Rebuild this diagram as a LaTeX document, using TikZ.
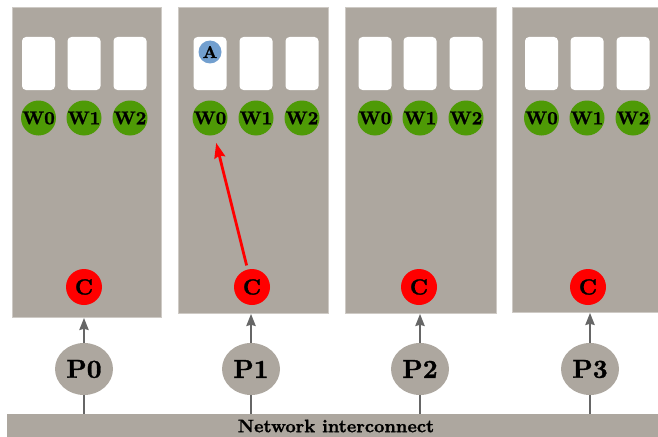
\documentclass[tikz,border=0pt]{standalone}
\usepackage{fontspec}
\newfontfamily\lmheavy{lmroman10-bold.otf}[FakeBold=1.2]
\usetikzlibrary{arrows.meta,shapes.geometric}
\definecolor{panelgray}{HTML}{ADA79F}
\definecolor{wgreen}{HTML}{4E9A06}
\definecolor{ablue}{HTML}{729FCF}
\definecolor{arrgray}{HTML}{666666}
\tikzset{
  panel/.style={rectangle, fill=panelgray, draw=panelgray!60!white, line width=0.8pt, anchor=north west, inner sep=0pt},
  slot/.style={rectangle, rounded corners=4pt, fill=white, minimum width=33pt, minimum height=53pt, inner sep=0pt},
  wcirc/.style={circle, fill=wgreen, minimum size=35pt, inner sep=0pt, font=\lmheavy\fontsize{18.5}{18.5}\selectfont},
  ccirc/.style={circle, fill=red, minimum size=36pt, inner sep=0pt, font=\lmheavy\fontsize{22}{22}\selectfont},
  acirc/.style={circle, fill=ablue, minimum size=23pt, inner sep=0pt, font=\lmheavy\fontsize{17}{17}\selectfont},
  proc/.style={ellipse, fill=panelgray, minimum width=58pt, minimum height=52pt, inner sep=0pt, font=\lmheavy\fontsize{26}{26}\selectfont},
  uparrow/.style={draw=arrgray, line width=2.6pt, -{Stealth[length=12pt,width=9pt,inset=1pt]}},
  link/.style={draw=arrgray, line width=2.6pt},
  redarrow/.style={draw=red, line width=2.8pt, -{Stealth[length=15pt,width=11pt,inset=2pt]}, shorten >=8pt, shorten <=4pt},
}
\begin{document}
\begin{tikzpicture}[x=1pt,y=-1pt]
\useasboundingbox (0,0) rectangle (658,436);
% panels
\node[panel, minimum width=149pt, minimum height=310pt] (pan0) at (12,7) {};
\node[panel, minimum width=150pt, minimum height=306pt] (pan1) at (178,7) {};
\node[panel, minimum width=151pt, minimum height=306pt] (pan2) at (345,7) {};
\node[panel, minimum width=152pt, minimum height=305pt] (pan3) at (512,7) {};
% slots and workers
\foreach \p/\xa/\xb/\xc in {0/38.5/84/130, 1/210/256/302, 2/375/420/466, 3/541.5/587/633}{
  \node[slot] (s\p a) at (\xa,63.5) {};
  \node[slot] (s\p b) at (\xb,63.5) {};
  \node[slot] (s\p c) at (\xc,63.5) {};
  \node[wcirc] (w\p a) at (\xa,118) {W0};
  \node[wcirc] (w\p b) at (\xb,118) {W1};
  \node[wcirc] (w\p c) at (\xc,118) {W2};
}
\node[acirc] (A) at (210,52) {A};
% C nodes
\node[ccirc] (c0) at (84,287) {C};
\node[ccirc] (c1) at (252,287) {C};
\node[ccirc] (c2) at (419,287) {C};
\node[ccirc] (c3) at (588,287) {C};
% processes
\node[proc] (p0) at (84,369) {P0};
\node[proc] (p1) at (251,369) {P1};
\node[proc] (p2) at (420,369) {P2};
\node[proc] (p3) at (590,369) {P3};
% network
\node[rectangle, fill=panelgray, anchor=north west, minimum width=655pt, minimum height=24pt, inner sep=0pt] (net) at (7,414) {};
\node[font=\lmheavy\fontsize{18}{18}\selectfont] (netlabel) at (336,426) {Network interconnect};
% connectors
\foreach \i in {0,1,2,3}{
  \draw[uparrow] (p\i.north) -- (p\i.north |- pan\i.south);
  \draw[link] (p\i.south) -- (p\i.south |- net.north);
}
\draw[redarrow] (c1) -- (w1a);
\end{tikzpicture}
\end{document}
